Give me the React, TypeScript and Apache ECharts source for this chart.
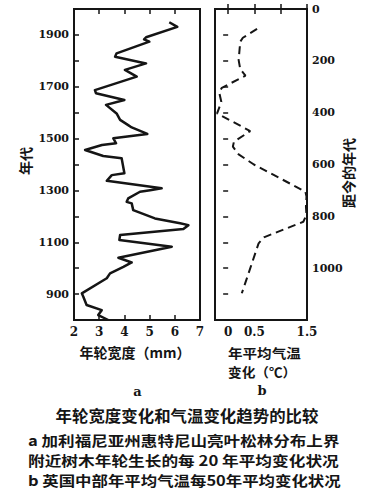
import React, { useEffect, useRef } from "react";
import * as echarts from "echarts";

// Panel a: tree-ring width (mm) by year (AD)
const years = [1949, 1931, 1891, 1883, 1874, 1829, 1816, 1790, 1765, 1739, 1687, 1675, 1649, 1630, 1597, 1572, 1552, 1543, 1518, 1501, 1482, 1475, 1456, 1433, 1424, 1366, 1359, 1337, 1308, 1301, 1295, 1269, 1256, 1250, 1224, 1192, 1173, 1166, 1151, 1128, 1109, 1083, 1040, 1022, 1005, 980, 961, 903, 890, 858, 838, 819, 800];
const ringWidth = [5.78, 6.1, 4.86, 4.78, 4.99, 3.69, 3.63, 4.86, 4.02, 4.49, 2.83, 2.87, 4.0, 3.27, 3.69, 3.83, 4.15, 4.29, 4.91, 3.56, 3.67, 3.11, 2.44, 3.16, 3.89, 4.0, 3.5, 3.3, 5.48, 5.02, 4.62, 4.15, 4.09, 4.29, 4.35, 5.21, 6.21, 6.54, 6.34, 3.83, 3.8, 5.88, 3.76, 4.29, 3.96, 3.43, 3.3, 2.31, 2.37, 2.5, 3.1, 2.96, 3.36];

// Panel b: mean annual temperature change (°C) by years before present
const bpYears = [77, 111, 126, 197, 232, 257, 304, 322, 358, 403, 471, 512, 531, 561, 600, 705, 724, 763, 795, 821, 881, 904, 1097];
const tempChange = [0.55, 0.28, 0.23, 0.2, 0.23, 0.33, -0.12, -0.17, -0.13, -0.21, 0.42, 0.11, 0.09, 0.2, 0.49, 1.47, 1.49, 1.48, 1.49, 1.43, 0.68, 0.58, 0.26];

// Tick labels
const yearLabels = [900, 1100, 1300, 1500, 1700, 1900];
const bpLabels = [0, 200, 400, 600, 800, 1000];
const tempTicks = [0, 0.5, 1, 1.5];
const tempLabels = [0, 0.5, 1.5];

const INK = "#151515";
const SERIF = '"DejaVu Serif", "Liberation Serif", serif';
const NUM_FONT = { fontFamily: SERIF, fontWeight: "bold" as const, fontSize: 11, color: INK };
const CJK = "Noto Sans CJK SC";
const plain = (v: number) => String(v);

export default function App() {
  const ref = useRef<HTMLDivElement>(null);
  useEffect(() => {
    document.body.style.margin = "0";
    const chart = echarts.init(ref.current!, null, { renderer: "svg" });
    const tick = { show: true, inside: true, length: 5, lineStyle: { color: INK, width: 1.5 } };
    const hiddenLine = { show: false };
    const txt = (text: string, x: number, y: number, size: number, align: string, extra: any = {}) => ({
      type: "text", x, y, ...extra,
      style: { text, font: `bold ${size}px "${CJK}"`, fill: INK, align, verticalAlign: "middle", lineHeight: size },
    });
    const option: any = {
      animation: false,
      backgroundColor: "#ffffff",
      grid: [
        { left: 74, top: 9, width: 126, height: 311, show: true, borderColor: INK, borderWidth: 2, backgroundColor: "transparent" },
        { left: 215, top: 9, width: 92, height: 311, show: true, borderColor: INK, borderWidth: 2, backgroundColor: "transparent" },
      ],
      xAxis: [
        {
          gridIndex: 0, type: "value", min: 2, max: 7, interval: 1, position: "bottom",
          axisLine: hiddenLine, splitLine: { show: false }, axisTick: tick,
          axisLabel: { ...NUM_FONT, fontSize: 12, margin: 6, formatter: plain },
        },
        {
          gridIndex: 0, type: "value", min: 2, max: 7, interval: 1, position: "top",
          axisLine: hiddenLine, splitLine: { show: false }, axisTick: tick, axisLabel: { show: false },
        },
        {
          gridIndex: 1, type: "value", min: -0.25, max: 1.5, position: "bottom",
          axisLine: hiddenLine, splitLine: { show: false },
          axisTick: { ...tick, customValues: tempTicks },
          axisLabel: { ...NUM_FONT, fontSize: 12, margin: 6, customValues: tempLabels, formatter: plain },
        },
        {
          gridIndex: 1, type: "value", min: -0.25, max: 1.5, position: "top",
          axisLine: hiddenLine, splitLine: { show: false },
          axisTick: { ...tick, customValues: tempTicks }, axisLabel: { show: false },
        },
      ],
      yAxis: [
        {
          gridIndex: 0, type: "value", min: 800, max: 2000, interval: 100, position: "left",
          axisLine: hiddenLine, splitLine: { show: false }, axisTick: tick,
          axisLabel: { ...NUM_FONT, margin: 5, customValues: yearLabels, formatter: plain },
        },
        {
          gridIndex: 1, type: "value", inverse: true, min: 0, max: 1200, interval: 100, position: "right",
          axisLine: hiddenLine, splitLine: { show: false }, axisTick: tick,
          axisLabel: { ...NUM_FONT, margin: 5, customValues: bpLabels, formatter: plain },
        },
      ],
      series: [
        {
          type: "line", xAxisIndex: 0, yAxisIndex: 0,
          data: ringWidth.map((v, i) => [v, years[i]]),
          showSymbol: false, symbol: "none",
          lineStyle: { color: INK, width: 2.5, join: "round" },
        },
        {
          type: "line", xAxisIndex: 2, yAxisIndex: 1,
          data: tempChange.map((v, i) => [v, bpYears[i]]),
          showSymbol: false, symbol: "none",
          lineStyle: { color: INK, width: 2, type: [8, 5] },
        },
      ],
      graphic: [
        txt("年代", 25, 161, 14, "center", { rotation: Math.PI / 2 }),
        txt("距今的年代", 348, 173, 14, "center", { rotation: Math.PI / 2 }),
        txt("年轮宽度（mm）", 135, 352, 14, "center"),
        txt("年平均气温", 228, 352, 13, "left", { scaleX: 1.12 }),
        txt("变化（℃）", 228, 371.5, 13, "left", { scaleX: 1.05 }),
        { type: "text", x: 137.5, y: 391, style: { text: "a", font: `bold 13px ${SERIF}`, fill: INK, align: "center", verticalAlign: "middle" } },
        { type: "text", x: 262, y: 390, style: { text: "b", font: `bold 13px ${SERIF}`, fill: INK, align: "center", verticalAlign: "middle" } },
        txt("年轮宽度变化和气温变化趋势的比较", 187, 415, 15.5, "center", { scaleX: 1.06, originX: 0 }),
        txt("a 加利福尼亚州惠特尼山亮叶松林分布上界", 28, 440, 13.8, "left", { scaleX: 1.2 }),
        txt("附近树木年轮生长的每 20 年平均变化状况", 28, 460, 13.8, "left", { scaleX: 1.21 }),
        txt("b 英国中部年平均气温每50年平均变化状况", 28, 480, 13.8, "left", { scaleX: 1.19 }),
      ],
    };
    chart.setOption(option);
    return () => chart.dispose();
  }, []);
  return <div ref={ref} style={{ width: 366, height: 500 }} />;
}
